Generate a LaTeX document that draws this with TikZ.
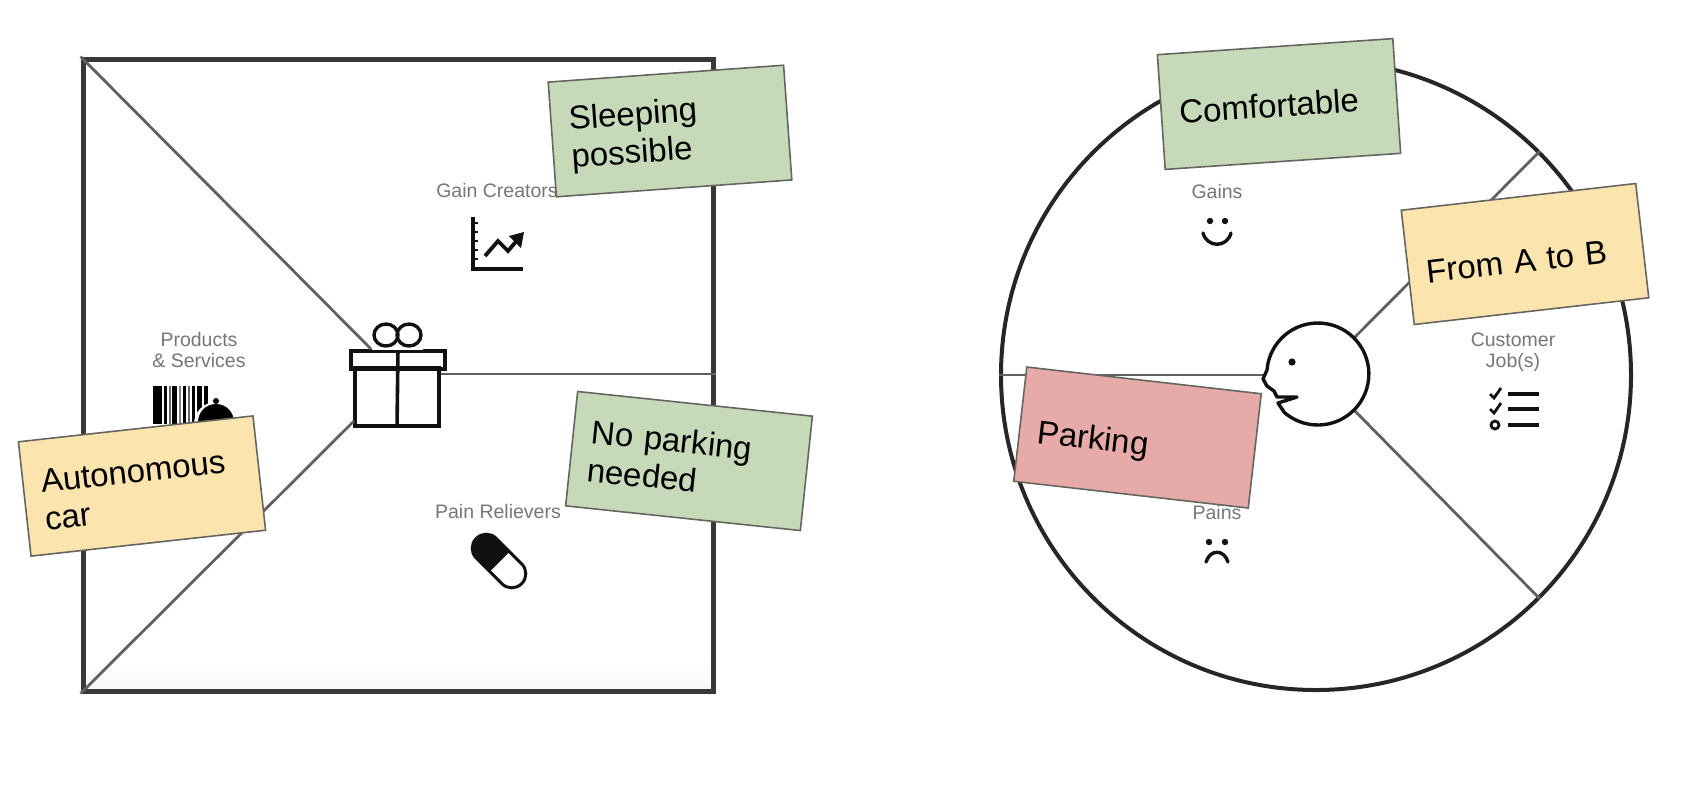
\documentclass[tikz,border=0pt]{standalone}
\usepackage{fontspec}
\setmainfont{Liberation Sans}
\definecolor{notegreen}{HTML}{C6D9B9}
\definecolor{noteyellow}{HTML}{FBE4AE}
\definecolor{notered}{HTML}{E6ABA8}
\definecolor{noteedge}{HTML}{666660}
\definecolor{framegray}{HTML}{383838}
\definecolor{spokegray}{HTML}{606060}
\definecolor{labelgray}{HTML}{767676}
\definecolor{iconink}{HTML}{111111}
\newcommand{\lift}[1]{\rule{0pt}{#1}}
\tikzset{
  stickynote/.style={draw=noteedge,line width=0.8pt,minimum width=118pt,minimum height=57.5pt,
    inner sep=0pt,text width=100pt,align=left,text=black,
    font=\fontsize{16.5}{19}\selectfont,transform shape=false},
  framebox/.style={draw=framegray,line width=2.5pt,inner sep=0pt},
  spoke/.style={draw=spokegray,line width=1.4pt},
  faintlabel/.style={text=labelgray,align=center,inner sep=0pt,font=\fontsize{9.75}{10.5}\selectfont},
  iconline/.style={draw=iconink,line width=1.8pt},
  thinicon/.style={draw=iconink,line width=1.3pt},
}
\begin{document}
\begin{tikzpicture}[x=0.5pt,y=-0.5pt]
\useasboundingbox (0,0) rectangle (1696,784);
% ---- left: value map
\shade[top color=white,bottom color=black!3] (84,660) rectangle (711,689);
\node[framebox,minimum width=315pt,minimum height=316pt] (valuemap) at (398,375) {};
\node[inner sep=0pt,minimum width=47pt,minimum height=9pt,draw=iconink,line width=1.8pt] (giftlid) at (398,360) {};
\node[inner sep=0pt,minimum width=42pt,minimum height=29pt,draw=iconink,line width=1.8pt] (giftbox) at (397,397) {};
\coordinate (giftTL) at (371,349);
\coordinate (giftBL) at (354,421);
\coordinate (giftR) at (441,374);
\coordinate (valueR) at (valuemap.east |- giftR);
\draw[spoke] (valuemap.north west) -- (giftTL);
\draw[spoke] (valuemap.south west) -- (giftBL);
\draw[spoke] (giftR) -- (valueR);
\draw[iconline] (giftlid.north) -- (giftbox.south);
\draw[thinicon,line width=1.7pt] (386,335) ellipse [x radius=12,y radius=11];
\draw[thinicon,line width=1.7pt] (409,335) ellipse [x radius=12,y radius=11];
\fill[white] (372,347.5) rectangle (423,349.5);
% products
\node[faintlabel] (prodlabel) at (199,350) {Products\\\& Services};
\foreach \xa/\w/\c in {153/9/100,164/3/100,169/2/60,172/5/100,179/2/50,183/3/100,188/2/60,192/3/100,197/5/100,204/4/100}
  \fill[black!\c] (\xa,386) rectangle ++(\w,38);
\fill[white] (216,424) circle [radius=22];
\fill[black] (216,422) circle [radius=18];
\fill[black] (216,401) circle [radius=3];
% gain creators
\node[faintlabel] (gainlabel) at (497,191) {Gain Creators};
\draw[iconline] (473,217) -- (473,269) -- (523,269);
\foreach \ty in {223,232,241,250,259} \draw[thinicon] (473,\ty) -- (478,\ty);
\draw[iconline,line width=1.9pt] (485,256) -- (498,241) -- (508,251) -- (519,238);
\fill[iconink] (524,232) -- (509,236) -- (521,248) -- cycle;
% pain relievers
\node[faintlabel] (painlabel) at (498,512) {Pain Relievers};
\begin{scope}[shift={(499,561)},rotate=-45]
  \draw[iconink,line width=1.5pt,fill=white,rounded corners=6.9pt] (-32,-14) rectangle (32,14);
  \begin{scope}
    \clip (-34,-16) rectangle (1,16);
    \fill[iconink,rounded corners=6.9pt] (-32,-14) rectangle (32,14);
  \end{scope}
\end{scope}
% ---- right: customer profile
\node[circle,draw=black!85,line width=2pt,inner sep=0pt,minimum size=315pt] (profile) at (1316,375) {};
\node[circle,inner sep=0pt,minimum size=51pt] (face) at (1318,374) {};
\coordinate (nose) at (1263,375);
\draw[spoke] (face.45) -- (profile.45);
\draw[spoke] (face.-45) -- (profile.-45);
\draw[spoke] (nose) -- (profile.180);
\draw[iconink,line width=1.7pt,line join=round]
  (1267,370) arc [start angle=184.5,end angle=491,radius=51]
  -- (1278,403) -- (1297,397) -- (1277,397) -- (1274,391) -- (1267,386) -- (1263,379) -- cycle;
\fill[iconink] (1292,362) circle [radius=3.6];
% gains
\node[faintlabel] (gainslabel) at (1217,192) {Gains};
\fill[iconink] (1210,221) circle [radius=3.2];
\fill[iconink] (1225,221) circle [radius=3.2];
\draw[iconink,line width=1.7pt,line cap=round] (1203,233) .. controls (1207,248) and (1227,248) .. (1231,233);
% jobs
\node[faintlabel] (jobslabel) at (1513,352) {Customer\\Job(s)};
\foreach \ly in {394,409,425} \draw[iconline] (1508,\ly) -- (1539,\ly);
\foreach \ly in {394,409} \draw[thinicon,line width=1.4pt] (1490,\ly) -- (1494,\ly+4) -- (1501,\ly-6);
\draw[thinicon,line width=1.4pt] (1495,425) circle [radius=4];
% pains
\node[faintlabel] (painslabel) at (1217,513) {Pains};
\fill[iconink] (1209,542) circle [radius=3.2];
\fill[iconink] (1225,542) circle [radius=3.2];
\draw[iconink,line width=1.7pt,line cap=round] (1206,562) .. controls (1210,549) and (1224,549) .. (1228,562);
% ---- sticky notes
\node[stickynote,fill=noteyellow,rotate=6.3] (autonomous) at (142,486) {\lift{15pt}Autonomous\\car};
\node[stickynote,fill=notegreen,rotate=4.1] (sleeping) at (670,131) {\lift{14pt}Sleeping\\possible};
\node[stickynote,fill=notegreen,rotate=-6] (noparking) at (689,461) {No parking\\needed};
\node[stickynote,fill=notegreen,rotate=3.9] (comfortable) at (1279,104) {\lift{13pt}Comfortable};
\node[stickynote,fill=noteyellow,rotate=6.5] (fromatob) at (1525,254) {\lift{18pt}From A to B};
\node[stickynote,fill=notered,rotate=-6.5,text depth=0pt] (parking) at (1137.5,437.5) {\lift{17pt}Parking};
\end{tikzpicture}
\end{document}
